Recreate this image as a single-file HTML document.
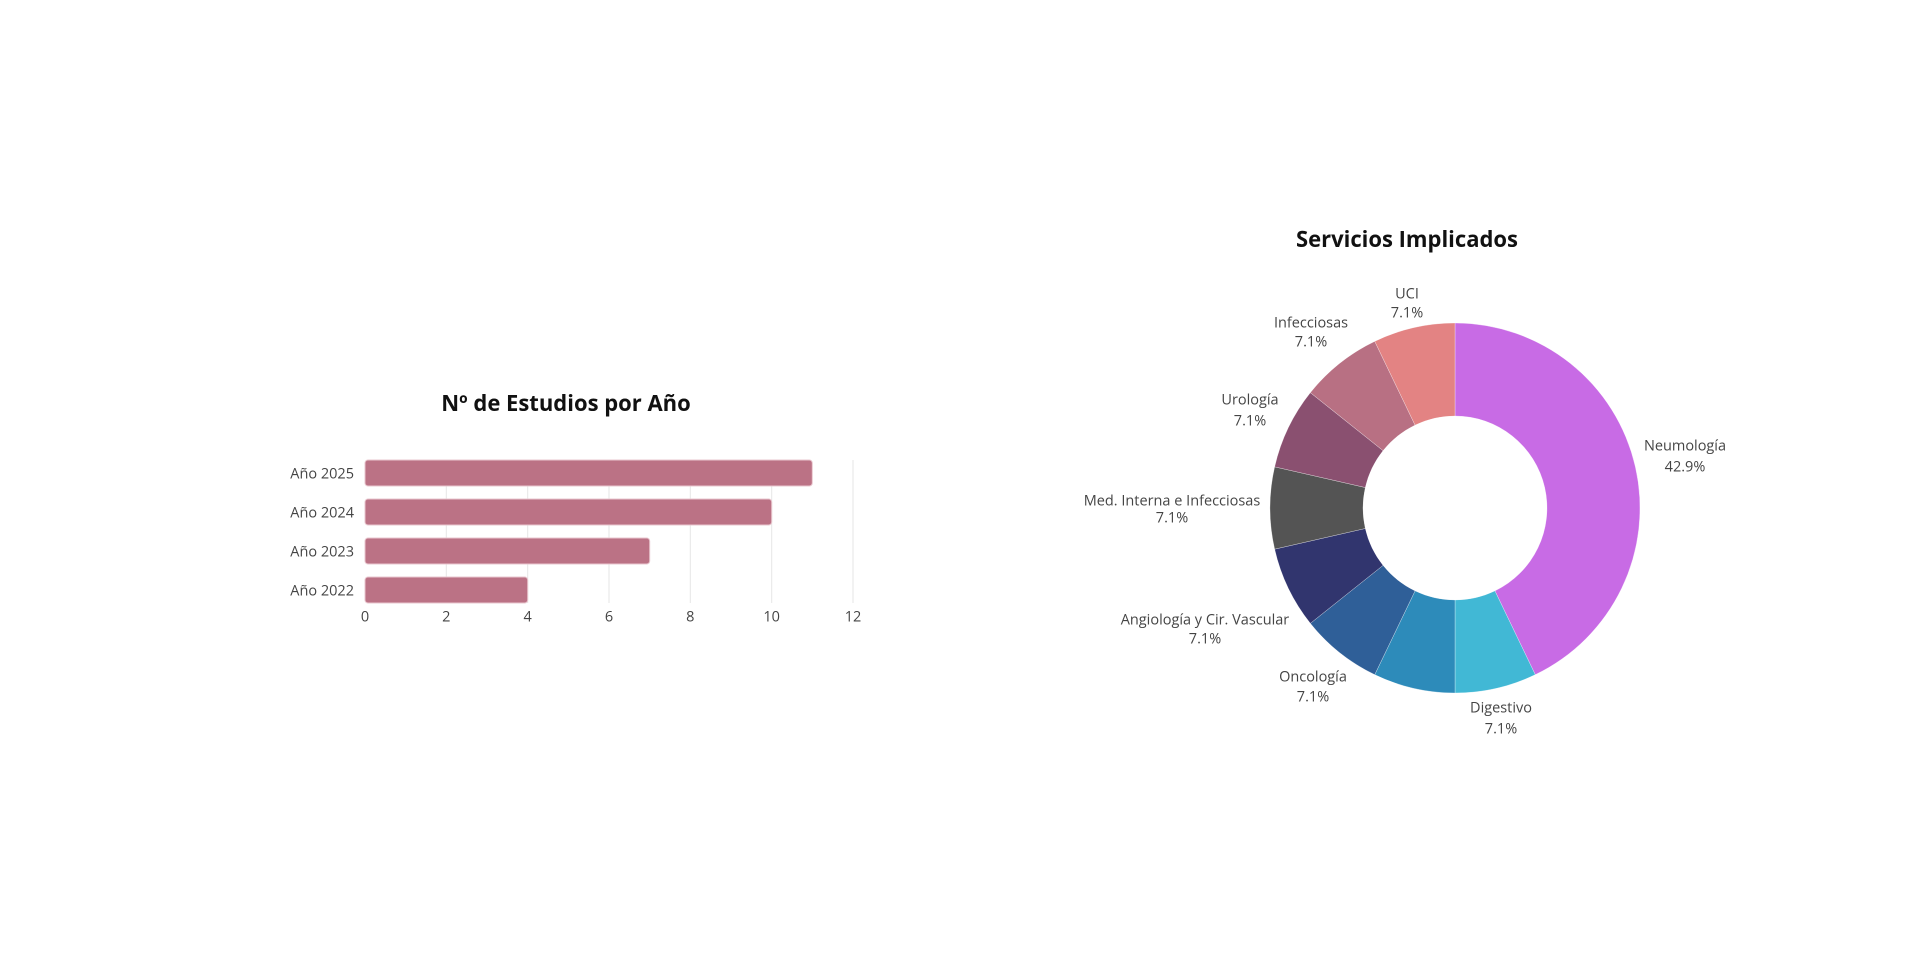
<!DOCTYPE html>
<html><head><meta charset="utf-8"><style>
html,body{margin:0;padding:0;background:#fff;}
svg{display:block;font-family:"Open Sans","Liberation Sans",sans-serif;}
</style></head><body>
<svg id="s" width="1920" height="962" viewBox="0 0 1920 962">
<g stroke="#e6e6e6" stroke-width="1">
<line x1="446.3" y1="460" x2="446.3" y2="603"/>
<line x1="527.7" y1="460" x2="527.7" y2="603"/>
<line x1="609" y1="460" x2="609" y2="603"/>
<line x1="690.3" y1="460" x2="690.3" y2="603"/>
<line x1="771.7" y1="460" x2="771.7" y2="603"/>
<line x1="853" y1="460" x2="853" y2="603"/>
</g>
<g fill="#bb7285" stroke="#e9c7cf" stroke-width="1">
<rect x="365" y="460" width="447.3" height="26" rx="3"/>
<rect x="365" y="499" width="406.7" height="26" rx="3"/>
<rect x="365" y="538" width="284.7" height="26" rx="3"/>
<rect x="365" y="577" width="162.7" height="26" rx="3"/>
</g>
<text x="566" y="403" text-anchor="middle" dominant-baseline="central" font-size="22" font-weight="bold" fill="#111">Nº de Estudios por Año</text>
<g font-size="14.5" fill="#444" text-anchor="end" dominant-baseline="central">
<text x="354" y="474">Año 2025</text>
<text x="354" y="513">Año 2024</text>
<text x="354" y="552">Año 2023</text>
<text x="354" y="591">Año 2022</text>
</g>
<g font-size="14.5" fill="#444" text-anchor="middle" dominant-baseline="central">
<text x="365" y="617">0</text><text x="446.3" y="617">2</text><text x="527.7" y="617">4</text>
<text x="609" y="617">6</text><text x="690.3" y="617">8</text><text x="771.7" y="617">10</text><text x="853" y="617">12</text>
</g>
<g id="pie"></g>
<text x="1407" y="239" text-anchor="middle" dominant-baseline="central" font-size="22" font-weight="bold" fill="#111">Servicios Implicados</text>
<g font-size="14.5" fill="#444" text-anchor="middle" dominant-baseline="central">
<text x="1407" y="294">UCI</text><text x="1407" y="313">7.1%</text>
<text x="1311" y="323">Infecciosas</text><text x="1311" y="342">7.1%</text>
<text x="1250" y="400">Urología</text><text x="1250" y="421">7.1%</text>
<text x="1172" y="501">Med. Interna e Infecciosas</text><text x="1172" y="518">7.1%</text>
<text x="1205" y="620">Angiología y Cir. Vascular</text><text x="1205" y="639">7.1%</text>
<text x="1313" y="677">Oncología</text><text x="1313" y="697">7.1%</text>
<text x="1501" y="708">Digestivo</text><text x="1501" y="729">7.1%</text>
<text x="1685" y="446">Neumología</text><text x="1685" y="467">42.9%</text>
</g>
</svg>
<script>
var cx=1455,cy=508,R=185,r=92;
var sl=[[6,"#c86be5"],[1,"#41b8d5"],[1,"#2d8bba"],[1,"#2f5f98"],[1,"#31356e"],[1,"#545454"],[1,"#8a5070"],[1,"#b87083"],[1,"#e38383"]];
var a=0,g=document.getElementById("pie"),ns="http://www.w3.org/2000/svg";
function pt(rad,t){return (cx+rad*Math.sin(t)).toFixed(2)+","+(cy-rad*Math.cos(t)).toFixed(2);}
sl.forEach(function(s){
 var t0=a/14*2*Math.PI,t1=(a+s[0])/14*2*Math.PI;a+=s[0];
 var lg=(t1-t0)>Math.PI?1:0;
 var d="M"+pt(R,t0)+"A"+R+","+R+" 0 "+lg+" 1 "+pt(R,t1)+"L"+pt(r,t1)+"A"+r+","+r+" 0 "+lg+" 0 "+pt(r,t0)+"Z";
 var p=document.createElementNS(ns,"path");p.setAttribute("d",d);p.setAttribute("fill",s[1]);
 p.setAttribute("stroke","#fff");p.setAttribute("stroke-width","0.3");g.appendChild(p);
});
</script>
</body></html>
